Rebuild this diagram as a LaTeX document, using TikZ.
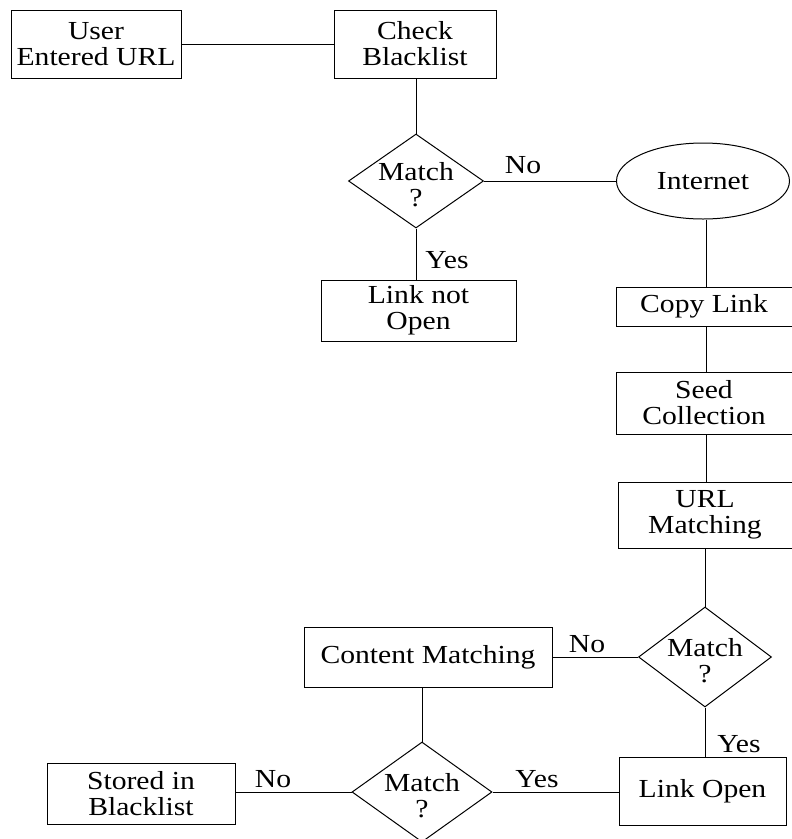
\documentclass[tikz,border=0pt]{standalone}
\usepackage{fontspec}
\setmainfont{Liberation Serif}[FakeStretch=1.14]
\usetikzlibrary{shapes.geometric}
\begin{document}
\begin{tikzpicture}[x=1pt,y=-1pt,line width=1pt,
  txtfont/.style={font=\fontsize{26}{26}\selectfont},
  box/.style={draw,rectangle,inner sep=0pt,align=center,txtfont},
  dia/.style={draw,diamond,inner sep=0pt},
  oval/.style={draw,ellipse,inner sep=0pt,txtfont},
  lbl/.style={inner sep=0pt,align=center,txtfont},
  conn/.style={draw,line width=1pt}]
\useasboundingbox (0,0) rectangle (792,839);
% nodes
\node[box,minimum width=170pt,minimum height=68pt] (user) at (96,44) {User\\Entered URL};
\node[box,minimum width=162pt,minimum height=68pt] (check) at (415,44) {Check\\Blacklist};
\node[dia,minimum width=135pt,minimum height=94pt] (d1) at (416,181) {};
\node[lbl] (d1t) at (416,185) {Match\\?};
\node[box,minimum width=195pt,minimum height=61pt] (notopen) at (418.5,310.5) {Link not\\Open};
\node[oval,minimum width=173pt,minimum height=76pt] (internet) at (703,181) {Internet};
\node[box,minimum width=176pt,minimum height=39pt] (copy) at (704,306.5) {Copy Link};
\node[box,minimum width=176pt,minimum height=62pt] (seed) at (704,403) {Seed\\Collection};
\node[box,minimum width=174pt,minimum height=66pt] (urlm) at (705,515) {URL\\Matching};
\node[dia,minimum width=133pt,minimum height=100pt] (d2) at (705,657) {};
\node[lbl] (d2t) at (705,661) {Match\\?};
\node[box,minimum width=248pt,minimum height=60pt] (content) at (428,657) {Content Matching};
\node[dia,minimum width=140pt,minimum height=100pt] (d3) at (422,792) {};
\node[lbl] (d3t) at (422,796) {Match\\?};
\node[box,minimum width=167pt,minimum height=68pt] (linkopen) at (702.5,791) {Link Open};
\node[box,minimum width=188pt,minimum height=61pt] (stored) at (141,793.5) {Stored in\\Blacklist};
% labels
\node[lbl] (l1) at (523,165) {No};
\node[lbl] (l2) at (447,260) {Yes};
\node[lbl] (l3) at (587,644) {No};
\node[lbl] (l4) at (739,744) {Yes};
\node[lbl] (l5) at (273,779) {No};
\node[lbl] (l6) at (537,779) {Yes};
% helper coordinates for straight vertical runs
\coordinate (v1) at (416,0);
\coordinate (v2) at (706,0);
% connectors
\draw[conn] (user.east) -- (check.west);
\draw[conn] (v1 |- check.south) -- (d1.north);
\draw[conn] (d1.south) -- (d1.south |- notopen.north);
\draw[conn] (d1.east) -- (d1.east -| internet.west);
\draw[conn] (v2 |- internet.south) -- (v2 |- copy.north);
\draw[conn] (v2 |- copy.south) -- (v2 |- seed.north);
\draw[conn] (v2 |- seed.south) -- (v2 |- urlm.north);
\draw[conn] (d2.north |- urlm.south) -- (d2.north);
\draw[conn] (d2.west) -- (content.east);
\draw[conn] (d2.south) -- (d2.south |- linkopen.north);
\draw[conn] (d3.north |- content.south) -- (d3.north);
\draw[conn] (d3.west) -- (stored.east |- d3.west);
\draw[conn] (d3.east) -- (linkopen.west |- d3.east);
\end{tikzpicture}
\end{document}
